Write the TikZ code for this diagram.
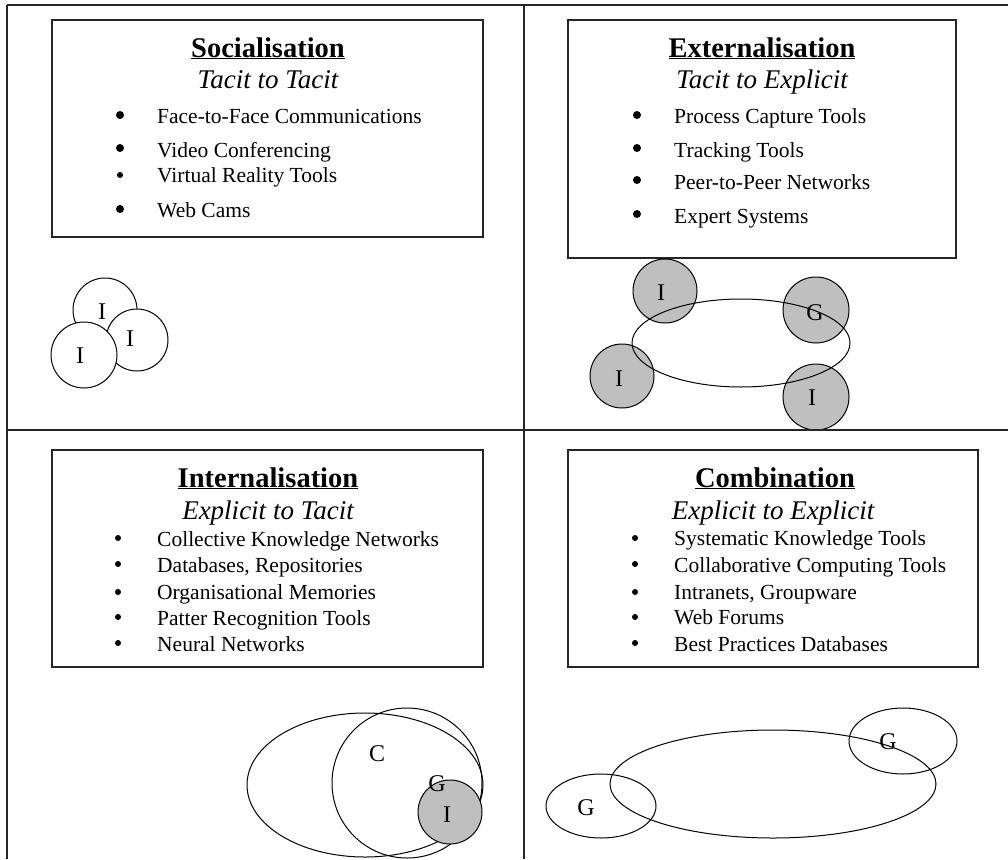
\documentclass[tikz,border=0pt]{standalone}
\usepackage{fontspec}
\setmainfont{Liberation Serif}
\tikzset{
  frameline/.style={line width=2pt, draw=black!85},
  boxline/.style={line width=1.6pt, draw=black!85},
  ttl/.style={anchor=base, inner sep=0pt, font=\fontsize{28.5}{30}\selectfont\bfseries},
  subttl/.style={anchor=base, inner sep=0pt, font=\fontsize{27}{29}\selectfont\itshape},
  itm/.style={anchor=base west, inner sep=0pt, font=\fontsize{21.5}{23}\selectfont},
  bigbul/.style={circle, fill=black, inner sep=0pt, minimum size=8pt},
  smallbul/.style={circle, fill=black, inner sep=0pt, minimum size=6pt},
  ring/.style={draw=black, line width=1pt},
  wring/.style={ring, fill=white},
  gring/.style={ring, fill=black!25},
  lbl/.style={inner sep=0pt, font=\fontsize{24}{26}\selectfont},
}
\begin{document}
\begin{tikzpicture}[x=1pt, y=-1pt]
\useasboundingbox (0,0) rectangle (1008,859);
\clip (0,0) rectangle (1008,859);
\fill[white] (0,0) rectangle (1008,859);

% ---------- Socialisation ----------
\draw[boxline] (52,20) rectangle (483,237);
\node[ttl] (s-t) at (268,57) {\underline{Socialisation}};
\node[subttl] (s-s) at (268,88) {Tacit to Tacit};
\node[bigbul] (s-b1) at (120,115) {};
\node[itm] (s-i1) at (157,123) {Face-to-Face Communications};
\node[bigbul] (s-b2) at (120,148) {};
\node[itm] (s-i2) at (157,157) {Video Conferencing};
\node[smallbul] (s-b3) at (120,175) {};
\node[itm] (s-i3) at (157,182) {Virtual Reality Tools};
\node[bigbul] (s-b4) at (120,209) {};
\node[itm] (s-i4) at (157,217) {Web Cams};

\draw[wring] (105,310) circle[radius=32];
\draw[wring] (137,340) circle[radius=31];
\draw[wring] (84,355) circle[radius=33];
\node[lbl] (s-l1) at (102,312) {I};
\node[lbl] (s-l2) at (130,339) {I};
\node[lbl] (s-l3) at (80,356) {I};

% ---------- Externalisation ----------
\draw[boxline] (568,20) rectangle (956,258);
\node[ttl] (e-t) at (762,57) {\underline{Externalisation}};
\node[subttl] (e-s) at (762,88) {Tacit to Explicit};
\node[bigbul] (e-b1) at (637,115) {};
\node[itm] (e-i1) at (674,123) {Process Capture Tools};
\node[bigbul] (e-b2) at (637,148) {};
\node[itm] (e-i2) at (674,157) {Tracking Tools};
\node[bigbul] (e-b3) at (637,180) {};
\node[itm] (e-i3) at (674,189) {Peer-to-Peer Networks};
\node[bigbul] (e-b4) at (637,214) {};
\node[itm] (e-i4) at (674,223) {Expert Systems};

\draw[gring] (665,291) circle[radius=32];
\draw[gring] (816,310) circle[radius=33];
\draw[gring] (622,376) circle[radius=32];
\draw[gring] (816,397) circle[radius=33];
\draw[ring] (741,343) ellipse[x radius=109, y radius=44];
\node[lbl] (e-l1) at (661,293) {I};
\node[lbl] (e-l2) at (815,313) {G};
\node[lbl] (e-l3) at (619,379) {I};
\node[lbl] (e-l4) at (812,398) {I};

% ---------- Internalisation ----------
\draw[boxline] (52,450) rectangle (483,667);
\node[ttl] (i-t) at (268,487) {\underline{Internalisation}};
\node[subttl] (i-s) at (268,519) {Explicit to Tacit};
\node[smallbul] (i-b1) at (118,538) {};
\node[itm] (i-i1) at (157,546) {Collective Knowledge Networks};
\node[smallbul] (i-b2) at (118,564) {};
\node[itm] (i-i2) at (157,572) {Databases, Repositories};
\node[smallbul] (i-b3) at (118,592) {};
\node[itm] (i-i3) at (157,599) {Organisational Memories};
\node[smallbul] (i-b4) at (118,617) {};
\node[itm] (i-i4) at (157,625) {Patter Recognition Tools};
\node[smallbul] (i-b5) at (118,643) {};
\node[itm] (i-i5) at (157,651) {Neural Networks};

\draw[ring] (365,785) ellipse[x radius=118, y radius=72];
\draw[ring] (407,783) circle[radius=75];
\node[lbl] (i-l1) at (377,754) {C};
\draw[gring] (450,812) circle[radius=32];
\node[lbl] (i-l2) at (437,784) {G};
\node[lbl] (i-l3) at (447,815) {I};

% ---------- Combination ----------
\draw[boxline] (568,450) rectangle (978,667);
\node[ttl] (c-t) at (775,487) {\underline{Combination}};
\node[subttl] (c-s) at (773,519) {Explicit to Explicit};
\node[smallbul] (c-b1) at (635,538) {};
\node[itm] (c-i1) at (674,545) {Systematic Knowledge Tools};
\node[smallbul] (c-b2) at (635,564) {};
\node[itm] (c-i2) at (674,572) {Collaborative Computing Tools};
\node[smallbul] (c-b3) at (635,592) {};
\node[itm] (c-i3) at (674,599) {Intranets, Groupware};
\node[smallbul] (c-b4) at (635,617) {};
\node[itm] (c-i4) at (674,624) {Web Forums};
\node[smallbul] (c-b5) at (635,643) {};
\node[itm] (c-i5) at (674,651) {Best Practices Databases};

\draw[ring] (773,784) ellipse[x radius=163, y radius=54];
\draw[ring] (601,806) ellipse[x radius=55, y radius=32];
\draw[ring] (903,741) ellipse[x radius=54, y radius=33];
\node[lbl] (c-l1) at (586,808) {G};
\node[lbl] (c-l2) at (888,742) {G};

% ---------- frame ----------
\draw[frameline] (7,5) -- (1008,5);
\draw[frameline] (7,5) -- (7,859);
\draw[frameline] (524,5) -- (524,859);
\draw[frameline] (7,430) -- (1008,430);
\end{tikzpicture}
\end{document}
